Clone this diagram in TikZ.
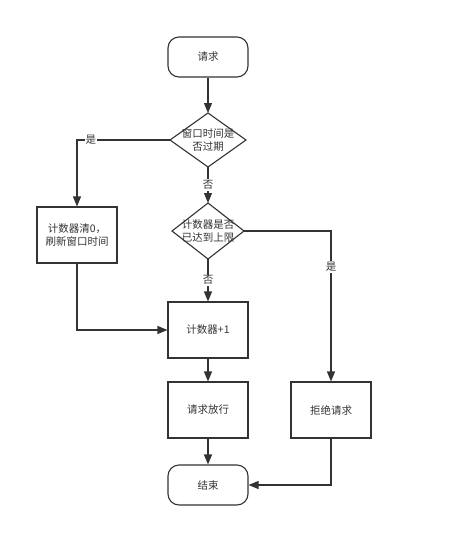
\documentclass[tikz,border=0pt]{standalone}
\usepackage{fontspec}
\setmainfont{Noto Sans CJK SC}
\usetikzlibrary{arrows.meta}
\definecolor{lc}{HTML}{333333}
\tikzset{
  base/.style={draw=lc, line width=1.1pt, font=\fontsize{10.5}{13}\selectfont, text=lc, align=center, inner sep=0pt},
  term/.style={base, rounded corners=11pt, minimum width=80pt, minimum height=40pt},
  proc/.style={base, minimum width=80pt, minimum height=56pt},
  conn/.style={draw=lc, line width=1.1pt, -{Triangle[length=10pt,width=8pt]}},
  lbl/.style={fill=white, text=lc, font=\fontsize{10.5}{13}\selectfont, inner sep=1pt}
}
\begin{document}
\begin{tikzpicture}[x=1pt,y=-1pt]
\useasboundingbox (0,0) rectangle (453,538);
\node[term] (req) at (208,57) {请求};
\draw[base] (170,140) coordinate (d1l) -- (208,113) coordinate (d1t) -- (246,140) coordinate (d1r) -- (208,167) coordinate (d1b) -- cycle;
\node[font=\fontsize{10.5}{13}\selectfont, text=lc, align=center, inner sep=0pt] (d1) at (208,140) {窗口时间是\\否过期};
\draw[base] (172,231) coordinate (d2l) -- (208,203) coordinate (d2t) -- (244,231) coordinate (d2r) -- (208,259) coordinate (d2b) -- cycle;
\node[font=\fontsize{10.5}{13}\selectfont, text=lc, align=center, inner sep=0pt] (d2) at (208,231) {计数器是否\\已达到上限};
\node[proc] (reset) at (77,235) {计数器清0，\\刷新窗口时间};
\node[proc] (inc) at (208,330) {计数器+1};
\node[proc] (pass) at (208,410) {请求放行};
\node[proc] (rej) at (331,410) {拒绝请求};
\node[term] (end) at (208,485) {结束};
\draw[conn] (req) -- (d1t);
\draw[conn] (d1b) -- node[lbl, pos=0.5] {否} (d2t);
\draw[conn] (d2b) -- node[lbl, pos=0.5] {否} (inc);
\draw[conn] (d1l) -- node[lbl, pos=0.85] {是} (77,140) -- (reset);
\draw[conn] (reset) |- (inc);
\draw[conn] (d2r) -| node[lbl, pos=0.62] {是} (rej);
\draw[conn] (inc) -- (pass);
\draw[conn] (pass) -- (end);
\draw[conn] (rej) |- (end);
\end{tikzpicture}
\end{document}
